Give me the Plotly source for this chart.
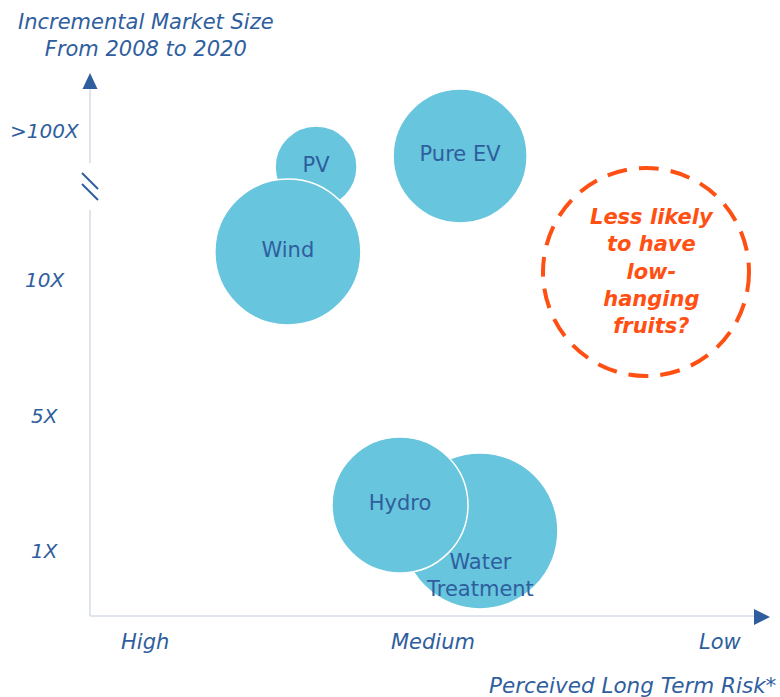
import plotly.graph_objects as go

# ---- data ----
risk_labels = ["High", "Medium", "Low"]
risk_ticks = [1, 2, 3]
size_labels = ["1X", "5X", "10X", ">100X"]
size_ticks = [0, 1, 2, 3.1]

techs = ["PV", "Pure EV", "Wind", "Water Treatment", "Hydro"]
risk = [1.595, 2.096, 1.497, 2.165, 1.887]
growth = [2.834, 2.915, 2.207, 0.148, 0.339]
bubble_diam = [82, 134, 146, 156, 136]

callout_lines = ["Less likely", "to have", "low-", "hanging", "fruits?"]

# ---- styling / geometry ----
W, H = 780, 697
BLUE = "#2F5E9E"
BUBBLE = "#67C5DD"
AXIS = "#D6DBE7"
ORANGE = "#FF5014"
FONT = "DejaVu Sans"

# pixel <-> data mapping (x: High at 145px, 287.5 px per level; y: 1X at 551px, 135.5 px per level)
def xd(px):
    return 1 + (px - 145) / 287.5

def yd(py):
    return (551 - py) / 135.5

def pxp(px):
    return px / W

def pyp(py):
    return 1 - py / H

fig = go.Figure()

labels = [t if t != "Water Treatment" else "" for t in techs]
fig.add_trace(go.Scatter(
    x=risk, y=growth, mode="markers+text",
    text=labels, textposition="middle center",
    textfont=dict(family=FONT, size=21, color=BLUE),
    marker=dict(size=bubble_diam, sizemode="diameter", color=BUBBLE,
                opacity=1, line=dict(color="white", width=1.5)),
    hoverinfo="text", hovertext=techs, showlegend=False,
))

def ann(**kw):
    d = dict(showarrow=False, xanchor="center", yanchor="middle")
    d.update(kw)
    return d

annotations = []
i = techs.index("Water Treatment")
annotations.append(ann(x=risk[i], y=growth[i], xref="x", yref="y",
                       text="Water<br>Treatment", yshift=-45,
                       font=dict(family=FONT, size=21, color=BLUE)))

for lab, v in zip(risk_labels, risk_ticks):
    annotations.append(ann(x=v, y=pyp(642), xref="x", yref="paper", text=lab,
                           font=dict(family=FONT, size=21, color=BLUE, style="italic")))
for lab, v in zip(size_labels, size_ticks):
    annotations.append(ann(x=pxp(45), y=v, xref="paper", yref="y", text=lab,
                           font=dict(family=FONT, size=20, color=BLUE, style="italic")))

annotations.append(ann(x=pxp(146), y=pyp(36), xref="paper", yref="paper",
                       text="Incremental Market Size<br>From 2008 to 2020",
                       font=dict(family=FONT, size=21, color=BLUE, style="italic")))
annotations.append(ann(x=pxp(779), y=pyp(685), xref="paper", yref="paper",
                       xanchor="right", text="Perceived Long Term Risk*",
                       font=dict(family=FONT, size=21.5, color=BLUE, style="italic")))

annotations.append(ann(x=pxp(652), y=pyp(271), xref="paper", yref="paper",
                       text="<br>".join(callout_lines),
                       font=dict(family=FONT, size=21, color=ORANGE,
                                 style="italic", weight="bold")))

shapes = []
line = dict(color=AXIS, width=1.5)
shapes.append(dict(type="line", xref="paper", yref="paper",
                   x0=pxp(90), y0=pyp(88), x1=pxp(90), y1=pyp(163), line=line))
shapes.append(dict(type="line", xref="paper", yref="paper",
                   x0=pxp(90), y0=pyp(210), x1=pxp(90), y1=pyp(616), line=line))
shapes.append(dict(type="line", xref="paper", yref="paper",
                   x0=pxp(90), y0=pyp(616), x1=pxp(755), y1=pyp(616), line=line))
for dy in (0, 11):
    shapes.append(dict(type="line", xref="paper", yref="paper",
                       x0=pxp(82), y0=pyp(173 + dy), x1=pxp(98), y1=pyp(189 + dy),
                       line=dict(color=BLUE, width=2)))

def path(pts):
    return "M " + " L ".join(f"{pxp(x)},{pyp(y)}" for x, y in pts) + " Z"

shapes.append(dict(type="path", xref="paper", yref="paper",
                   path=path([(90, 73), (82.5, 89), (97.5, 89)]),
                   fillcolor=BLUE, line=dict(width=0)))
shapes.append(dict(type="path", xref="paper", yref="paper",
                   path=path([(770, 617), (754, 609), (754, 625)]),
                   fillcolor=BLUE, line=dict(width=0)))
shapes.append(dict(type="circle", xref="paper", yref="paper",
                   x0=pxp(543), x1=pxp(749), y0=pyp(168), y1=pyp(376),
                   line=dict(color=ORANGE, width=4, dash="20px,12px")))

fig.update_layout(
    width=W, height=H,
    margin=dict(l=0, r=0, t=0, b=0),
    paper_bgcolor="white", plot_bgcolor="white",
    xaxis=dict(range=[xd(0), xd(W)], visible=False, fixedrange=True),
    yaxis=dict(range=[yd(H), yd(0)], visible=False, fixedrange=True),
    annotations=annotations, shapes=shapes,
    showlegend=False,
)

fig.write_html("out.html")
